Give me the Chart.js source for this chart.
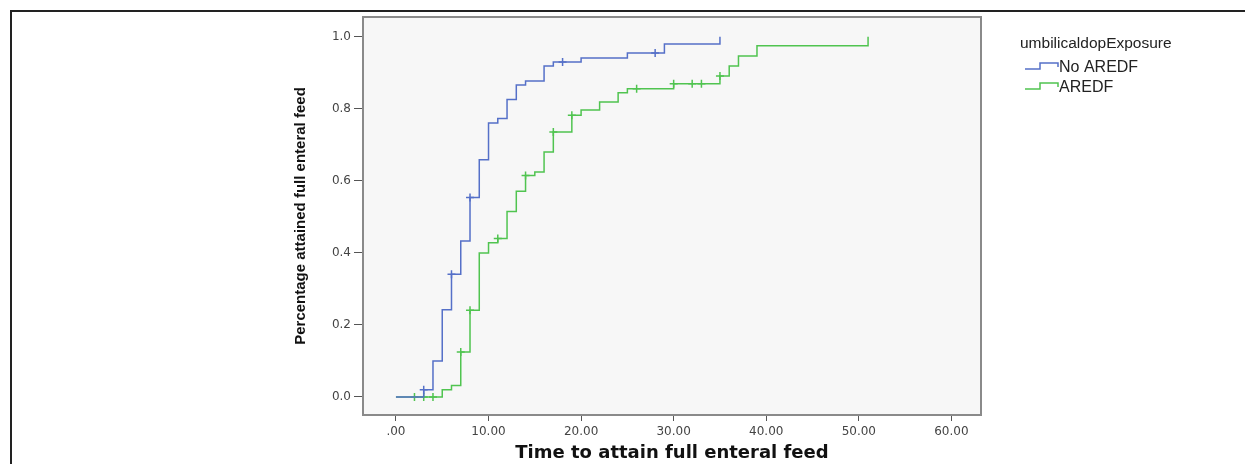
<!DOCTYPE html>
<html>
<head>
<meta charset="utf-8">
<script src="https://cdn.jsdelivr.net/npm/chart.js@4.4.1/dist/chart.umd.min.js"></script>
<style>
  html, body { margin: 0; padding: 0; background: #fff; }
  #wrap { width: 1245px; height: 464px; }
</style>
</head>
<body>
<div id="wrap"><canvas id="myChart" width="1245" height="464"></canvas></div>
<script>
// Kaplan-Meier style curves
const legendTitle = 'umbilicaldopExposure'
const seriesNames = ['No AREDF', 'AREDF']

const noAredfTimes = [0, 3, 4, 5, 6, 7, 8, 9, 10, 11, 12, 13, 14, 16, 17, 20, 25, 29, 35]
const noAredfValues = [0, 0.02, 0.10, 0.242, 0.341, 0.433, 0.554, 0.659, 0.761, 0.773, 0.826, 0.866, 0.877, 0.919, 0.930, 0.941, 0.955, 0.980, 1.0]
const noAredfCensored = [3, 6, 8, 18, 28]

const aredfTimes = [0, 5, 6, 7, 8, 9, 10, 11, 12, 13, 14, 15, 16, 17, 19, 20, 22, 24, 25, 30, 35, 36, 37, 39, 51]
const aredfValues = [0, 0.02, 0.032, 0.125, 0.241, 0.40, 0.428, 0.44, 0.515, 0.571, 0.615, 0.625, 0.68, 0.736, 0.782, 0.797, 0.819, 0.845, 0.856, 0.870, 0.891, 0.919, 0.947, 0.975, 1.0]
const aredfCensored = [2, 3, 4, 7, 8, 11, 14, 17, 19, 26, 30, 32, 33, 35]

const xTickValues = [0, 10, 20, 30, 40, 50, 60]
const yTickValues = [0, 0.2, 0.4, 0.6, 0.8, 1.0]

const blue = '#5570c8'
const green = '#50c450'

function toPoints(times, values) {
  return times.map((t, i) => ({ x: t, y: values[i] }))
}

// level of the step curve at a censored time
function censorPoints(censored, times, values) {
  return censored.map(t => {
    let y = 0
    times.forEach((tt, i) => { if (tt <= t) y = values[i] })
    return { x: t, y: y }
  })
}

const framePlugin = {
  id: 'frame',
  beforeDraw(chart) {
    const c = chart.ctx
    const a = chart.chartArea
    c.save()
    c.fillStyle = '#ffffff'
    c.fillRect(0, 0, chart.width, chart.height)
    c.strokeStyle = '#222'
    c.lineWidth = 2
    c.beginPath()
    c.moveTo(11, chart.height)
    c.lineTo(11, 11)
    c.lineTo(chart.width, 11)
    c.stroke()
    c.fillStyle = '#f7f7f7'
    c.fillRect(a.left, a.top, a.right - a.left, a.bottom - a.top)
    c.restore()
  },
  afterDraw(chart) {
    const c = chart.ctx
    const a = chart.chartArea
    c.save()
    c.strokeStyle = '#8a8a8a'
    c.lineWidth = 2
    c.strokeRect(a.left, a.top, a.right - a.left, a.bottom - a.top)

    // legend with step icons
    c.fillStyle = '#222'
    c.font = '15.5px "Liberation Sans", Arial, sans-serif'
    c.textBaseline = 'middle'
    c.fillText(legendTitle, 1020, 44)
    const cols = [blue, green]
    seriesNames.forEach((name, i) => {
      const y = 67 + i * 20
      c.strokeStyle = cols[i]
      c.lineWidth = 1.5
      c.beginPath()
      c.moveTo(1025, y + 2)
      c.lineTo(1040, y + 2)
      c.lineTo(1040, y - 4)
      c.lineTo(1058, y - 4)
      c.lineTo(1058, y)
      c.stroke()
      c.fillStyle = '#222'
      c.font = '16px "Liberation Sans", Arial, sans-serif'
      c.fillText(name, 1059, y + 1)
    })
    c.restore()
  }
}

const lineDefaults = {
  stepped: true,
  fill: false,
  borderWidth: 1.5,
  pointRadius: 0,
  showLine: true
}

const censorDefaults = {
  showLine: false,
  pointStyle: 'cross',
  pointRadius: 4,
  pointBorderWidth: 1.5
}

const data = {
  datasets: [
    Object.assign({ label: seriesNames[0], borderColor: blue, data: toPoints(noAredfTimes, noAredfValues) }, lineDefaults),
    Object.assign({ label: seriesNames[1], borderColor: green, data: toPoints(aredfTimes, aredfValues) }, lineDefaults),
    Object.assign({ label: 'c1', borderColor: blue, data: censorPoints(noAredfCensored, noAredfTimes, noAredfValues) }, censorDefaults),
    Object.assign({ label: 'c2', borderColor: green, data: censorPoints(aredfCensored, aredfTimes, aredfValues) }, censorDefaults)
  ]
}

const tickFont = { family: '"DejaVu Sans", Verdana, sans-serif', size: 12 }

const config = {
  type: 'scatter',
  data: data,
  plugins: [framePlugin],
  options: {
    responsive: false,
    animation: false,
    devicePixelRatio: 1,
    layout: { padding: { left: 292, right: 264, top: 17, bottom: 0 } },
    plugins: {
      legend: { display: false },
      tooltip: { enabled: false }
    },
    scales: {
      x: {
        type: 'linear',
        position: 'bottom',
        min: -3.56,
        max: 63.2,
        afterFit(scale) { scale.height = 49 },
        afterBuildTicks(scale) { scale.ticks = xTickValues.map(v => ({ value: v })) },
        grid: { drawOnChartArea: false, tickLength: 6, color: '#555', lineWidth: 1 },
        border: { display: false },
        ticks: {
          padding: 4,
          color: '#444',
          font: tickFont,
          callback: v => (v === 0 ? '.00' : v.toFixed(2))
        },
        title: {
          display: true,
          text: 'Time to attain full enteral feed',
          color: '#111',
          font: { family: '"DejaVu Sans", Verdana, sans-serif', size: 18, weight: 'bold' },
          padding: { top: 0, bottom: 0 }
        }
      },
      y: {
        type: 'linear',
        position: 'left',
        min: -0.05,
        max: 1.055,
        afterFit(scale) { scale.width = 363 - 292 },
        afterBuildTicks(scale) { scale.ticks = yTickValues.map(v => ({ value: v })) },
        grid: { drawOnChartArea: false, tickLength: 9, color: '#555', lineWidth: 1 },
        border: { display: false },
        ticks: {
          padding: 3,
          color: '#444',
          font: tickFont,
          callback: v => v.toFixed(1)
        },
        title: {
          display: true,
          text: 'Percentage attained full enteral feed',
          color: '#111',
          font: { family: '"Liberation Sans Narrow", "Arial Narrow", "Liberation Sans", sans-serif', size: 15, weight: 'bold' },
          padding: 0
        }
      }
    }
  }
}

const myChart = new Chart(document.getElementById('myChart').getContext('2d'), config)
</script>
</body>
</html>
